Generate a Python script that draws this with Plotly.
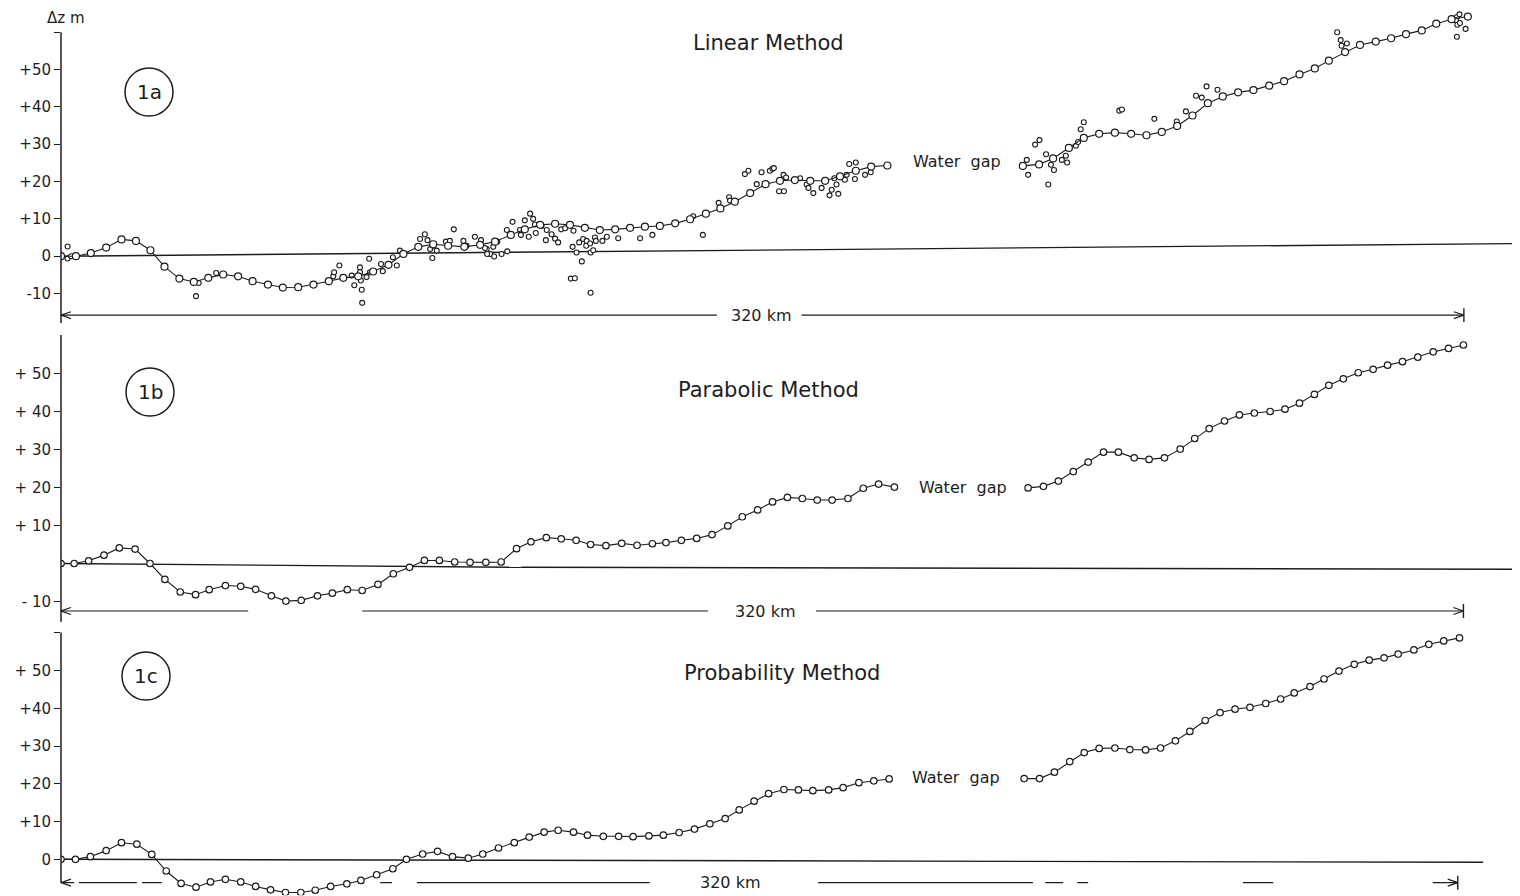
import plotly.graph_objects as go

# ---------------- data (distance in km, elevation difference in m) ----------------
# Panel 1a : Linear Method
lin_x_left = [0.0, 3.4, 6.8, 10.3, 13.8, 17.1, 20.4, 23.6, 27.0, 30.3,
              33.6, 37.0, 40.4, 43.7, 47.2, 50.6, 54.1, 57.6, 61.1, 64.4,
              67.8, 71.2, 74.7, 78.1, 81.5, 84.9, 88.3, 92.0, 95.6, 99.0,
              102.6, 105.8, 109.3, 112.7, 116.1, 119.5, 122.9, 126.4, 129.8, 133.2,
              136.6, 140.1, 143.5, 147.1, 150.4, 153.7, 157.2, 160.7, 164.0, 167.4,
              170.9, 174.3, 177.7, 181.3, 184.8, 188.5]
lin_y_left = [0.0, 0.0, 0.85, 2.3, 4.5, 4.1, 1.6, -2.8, -6.0, -6.9,
              -5.8, -4.9, -5.4, -6.7, -7.6, -8.4, -8.3, -7.6, -6.7, -5.8,
              -5.4, -4.1, -2.3, 0.6, 2.5, 3.2, 2.8, 2.5, 3.05, 3.9,
              5.7, 7.2, 8.4, 8.7, 8.4, 7.6, 7.0, 7.2, 7.6, 7.9,
              8.1, 8.8, 9.9, 11.4, 12.8, 14.6, 16.9, 19.3, 20.2, 20.4,
              20.2, 20.2, 21.4, 22.9, 24.0, 24.3]
lin_x_right = [219.4, 223.1, 226.3, 229.9, 233.3, 236.8, 240.4, 244.1, 247.6, 251.1,
               254.6, 258.1, 261.6, 265.0, 268.5, 272.0, 275.6, 279.0, 282.5, 286.0,
               289.2, 292.9, 296.3, 299.9, 303.4, 306.8, 310.4, 313.7, 317.2, 320.9]
lin_y_right = [24.2, 24.6, 26.2, 29.0, 31.7, 32.8, 33.1, 32.8, 32.4, 33.3,
               34.9, 37.7, 41.0, 42.8, 43.9, 44.5, 45.7, 46.9, 48.7, 50.3,
               52.4, 54.7, 56.6, 57.5, 58.4, 59.5, 60.5, 62.3, 63.5, 64.2]
# individual observations scattered about the linear-method profile
obs_x = [1.5, 1.5, 2.3, 30.8, 31.4, 35.4, 62.1, 62.3, 63.5, 66.3,
         66.9, 68.2, 68.2, 68.4, 68.6, 68.7, 69.7, 70.3, 70.5, 71.2,
         73.0, 73.4, 74.7, 75.7, 76.6, 77.3, 78.1, 81.9, 83.0, 83.6,
         84.2, 84.7, 84.9, 85.7, 87.8, 88.7, 89.6, 91.8, 92.5, 94.4,
         95.8, 97.1, 97.9, 98.6, 98.8, 99.5, 96.7, 97.2, 100.5, 101.7,
         103.0, 101.8, 104.7, 104.9, 105.8, 106.7, 107.0, 107.7, 108.1, 108.3,
         109.6, 110.6, 110.8, 111.9, 112.7, 113.4, 114.1, 115.0, 116.9, 116.7,
         117.6, 118.2, 118.8, 119.1, 119.8, 119.9, 120.7, 120.8, 121.4, 121.8,
         122.0, 116.3, 117.2, 120.8, 123.5, 124.5, 127.1, 132.1, 134.9, 146.4,
         144.2, 150.0, 152.4, 152.6, 156.0, 156.8, 158.7, 159.8, 161.7, 162.3,
         162.6, 163.8, 164.9, 164.8, 165.4, 168.6, 170.1, 170.5, 171.6, 173.5,
         175.3, 175.8, 176.9, 177.3, 176.4, 178.8, 179.2, 179.8, 181.3, 181.1,
         183.4, 184.7,
         220.3, 220.6, 222.2, 223.2, 224.7, 225.2, 225.8, 226.5, 228.3, 229.2,
         229.5, 231.5, 232.0, 232.6, 233.3, 241.4, 242.0, 249.4, 254.5, 256.6,
         258.9, 260.2, 261.3, 263.8, 291.1, 291.9, 292.1, 293.3, 318.4, 318.2,
         318.5, 319.1, 320.4, 318.4, 319.0]
obs_y = [2.6, -0.6, 0.0, -10.7, -7.2, -4.5, -5.4, -4.3, -2.5, -5.2,
         -7.8, -3.0, -4.3, -6.5, -9.0, -12.5, -5.6, -0.7, -4.3, -4.0,
         -2.1, -4.0, -2.3, -0.3, -2.5, 1.5, 0.6, 4.6, 5.9, 4.3,
         1.9, -0.5, 2.8, 1.5, 3.9, 4.1, 7.2, 4.1, 2.8, 5.2,
         4.3, 1.9, 0.6, 2.5, -0.1, 3.9, 2.2, 0.6, 0.6, 7.0,
         9.2, 1.3, 7.0, 5.7, 9.6, 5.2, 11.4, 10.0, 8.5, 6.2,
         8.1, 4.3, 7.0, 5.9, 4.7, 3.7, 7.2, 7.5, 6.8, 2.5,
         1.0, 3.7, -1.4, 4.6, 2.8, 4.1, 3.4, 1.0, 1.6, 5.0,
         4.1, -6.0, -5.9, -9.8, 4.1, 5.2, 4.8, 4.8, 5.7, 5.7,
         10.7, 14.3, 15.8, 14.9, 22.0, 22.9, 19.3, 22.5, 22.9, 23.4,
         23.6, 17.4, 17.4, 21.8, 21.1, 20.9, 19.2, 18.3, 16.9, 18.3,
         16.3, 17.8, 19.2, 16.7, 20.9, 20.5, 21.8, 24.7, 25.1, 20.7,
         21.8, 22.5,
         25.8, 21.8, 29.9, 31.1, 27.3, 19.2, 24.5, 23.1, 25.8, 26.9,
         25.1, 29.6, 30.6, 34.0, 35.9, 39.0, 39.3, 36.8, 36.1, 38.8,
         43.0, 42.5, 45.5, 44.6, 60.0, 57.9, 56.4, 57.0, 64.1, 63.2,
         62.0, 62.5, 60.9, 58.8, 64.8]

# Panel 1b : Parabolic Method
par_x_left = [0.0, 3.0, 6.3, 9.8, 13.3, 16.9, 20.3, 23.7, 27.2, 30.7,
              33.8, 37.5, 41.0, 44.4, 48.0, 51.3, 54.8, 58.5, 61.9, 65.3,
              68.7, 72.3, 75.8, 79.5, 82.9, 86.3, 89.8, 93.3, 96.9, 100.4,
              103.9, 107.2, 110.7, 114.1, 117.5, 120.8, 124.3, 127.9, 131.4, 134.9,
              138.0, 141.5, 145.0, 148.5, 152.1, 155.4, 158.9, 162.3, 165.7, 169.1,
              172.5, 175.9, 179.5, 183.0, 186.5, 190.1]
par_y_left = [0.0, 0.0, 0.7, 2.2, 4.1, 3.8, 0.0, -4.2, -7.5, -8.2,
              -6.9, -5.8, -6.0, -6.8, -8.5, -9.9, -9.7, -8.5, -7.8, -6.9,
              -7.1, -5.5, -2.7, -1.0, 0.8, 0.8, 0.4, 0.3, 0.3, 0.4,
              3.9, 5.7, 6.8, 6.5, 6.1, 5.0, 4.7, 5.3, 4.8, 5.2,
              5.5, 6.1, 6.6, 7.6, 9.9, 12.3, 14.1, 16.2, 17.4, 17.1,
              16.7, 16.7, 17.1, 19.8, 20.9, 20.1]
par_x_right = [220.6, 224.1, 227.5, 230.9, 234.3, 237.8, 241.2, 244.8, 248.2, 251.7,
               255.3, 258.6, 261.9, 265.4, 268.8, 272.2, 275.8, 279.2, 282.5, 285.9,
               289.2, 292.5, 295.9, 299.3, 302.6, 306.0, 309.5, 313.0, 316.5, 319.9]
par_y_right = [19.9, 20.3, 21.7, 24.2, 26.7, 29.3, 29.3, 27.8, 27.4, 27.8,
               30.1, 32.9, 35.5, 37.5, 39.1, 39.6, 40.0, 40.6, 42.2, 44.5,
               46.9, 48.6, 50.2, 51.1, 52.2, 53.1, 54.3, 55.7, 56.6, 57.5]

# Panel 1c : Probability Method
pro_x_left = [0.0, 3.3, 6.7, 10.3, 13.8, 17.3, 20.7, 24.0, 27.4, 30.8,
              34.1, 37.5, 41.0, 44.4, 47.8, 51.2, 54.7, 58.0, 61.5, 65.2,
              68.4, 72.0, 75.7, 78.8, 82.5, 85.9, 89.3, 92.9, 96.2, 99.8,
              103.4, 106.8, 110.2, 113.4, 116.9, 120.1, 123.7, 127.2, 130.5, 134.1,
              137.4, 141.0, 144.5, 148.0, 151.5, 154.7, 158.1, 161.4, 164.9, 168.2,
              171.5, 175.1, 178.4, 182.0, 185.4, 188.9]
pro_y_left = [0.0, 0.0, 0.7, 2.3, 4.4, 4.0, 1.3, -3.1, -6.4, -7.4,
              -6.0, -5.3, -6.0, -7.2, -8.1, -8.8, -8.8, -8.2, -7.2, -6.5,
              -5.6, -4.1, -2.5, 0.0, 1.4, 2.1, 0.7, 0.3, 1.4, 3.0,
              4.4, 5.9, 7.2, 7.7, 7.2, 6.4, 6.1, 6.1, 6.0, 6.2,
              6.4, 7.1, 8.0, 9.4, 10.8, 13.1, 15.4, 17.4, 18.5, 18.4,
              18.2, 18.4, 19.0, 20.3, 20.8, 21.3]
pro_x_right = [219.7, 223.2, 226.6, 230.1, 233.4, 236.8, 240.4, 243.8, 247.4, 250.8,
               254.2, 257.5, 261.0, 264.4, 267.8, 271.2, 274.8, 278.2, 281.3, 284.9,
               288.1, 291.5, 295.0, 298.4, 301.8, 305.0, 308.6, 312.0, 315.4, 319.0]
pro_y_right = [21.4, 21.4, 23.1, 25.9, 28.3, 29.4, 29.5, 29.1, 29.0, 29.5,
               31.4, 33.9, 36.8, 38.9, 39.8, 40.3, 41.3, 42.5, 44.1, 45.8,
               47.8, 49.9, 51.7, 52.8, 53.4, 54.4, 55.5, 57.0, 57.9, 58.7]

tick_vals_a = [60, 50, 40, 30, 20, 10, 0, -10]
tick_text_a = ["", "+50", "+40", "+30", "+20", "+10", "0", "-10"]
tick_vals_b = [50, 40, 30, 20, 10, -10]
tick_text_b = ["+ 50", "+ 40", "+ 30", "+ 20", "+ 10", "- 10"]
tick_vals_c = [60, 50, 40, 30, 20, 10, 0]
tick_text_c = ["", "+ 50", "+40", "+30", "+20", "+10", "0"]

# ---------------- layout geometry ----------------
# The page has an 8 px body margin: the figure is placed at (8, 8) in the window.
OFF = 8
W, H = 1520 - OFF, 896 - OFF
INK = "#1d1d1d"
FONT = "DejaVu Sans"
X0PX = 61.0 - OFF    # figure pixel of x = 0 km
KMPX = 4.384         # pixels per km
XMAX = (W - X0PX) / KMPX


def fx(px):
    return (px - OFF) / W


def fy(py):
    return 1 - (py - OFF) / H


panels = [
    dict(zero=255.5, s=3.77, rng=(-18.5, 66.5), axis=(-17.9, 60.0),
         tv=tick_vals_a, tt=tick_text_a,
         base=[(0, 0), (XMAX, 3.4)],
         arr_y=-15.8, segs=[(0, 149.6), (168.9, 320.0)], tip_r=320.0,
         km=(159.7, "320 km"), title=("Linear Method", 769, 43),
         circ=(149, 92, "1a"), wg=(204.4, 25.3)),
    dict(zero=563.5, s=3.8, rng=(-15.5, 60.5), axis=(-15.3, 60.1),
         tv=tick_vals_b, tt=tick_text_b,
         base=[(0, 0), (105, -1.0), (XMAX, -1.5)],
         arr_y=-12.5, segs=[(0, 42.7), (68.7, 147.6), (172.2, 319.9)], tip_r=319.9,
         km=(160.6, "320 km"), title=("Parabolic Method", 769, 390),
         circ=(150, 392, "1b"), wg=(205.7, 20.0)),
    dict(zero=859.3, s=3.772, rng=(-9.5, 60.5), axis=(-6.3, 60.1),
         tv=tick_vals_c, tt=tick_text_c,
         base=[(0, 0), (324.4, -0.8)],
         arr_y=-6.2, segs=[(0, 3.0), (4.1, 17.3), (18.5, 23.0), (72.8, 75.5), (81.2, 134.3),
                           (172.7, 221.7), (224.5, 228.6), (231.8, 234.3), (269.6, 276.5),
                           (312.9, 318.6)], tip_r=318.6,
         km=(152.6, "320 km"), title=("Probability Method", 782, 673),
         circ=(146, 676, "1c"), wg=(204.2, 21.8)),
]

series = [
    [(lin_x_left, lin_y_left), (lin_x_right, lin_y_right)],
    [(par_x_left, par_y_left), (par_x_right, par_y_right)],
    [(pro_x_left, pro_y_left), (pro_x_right, pro_y_right)],
]

fig = go.Figure()
shapes, annotations = [], []

for i, p in enumerate(panels):
    n = i + 1
    xa = "x" if n == 1 else f"x{n}"
    ya = "y" if n == 1 else f"y{n}"
    s = p["s"]
    top_px = p["zero"] - p["rng"][1] * s
    bot_px = p["zero"] - p["rng"][0] * s
    ydom = [max(0.0, fy(bot_px)), min(1.0, fy(top_px))]
    fig.update_layout(**{
        ("xaxis" if n == 1 else f"xaxis{n}"): dict(
            domain=[X0PX / W, 1.0], range=[0, XMAX], visible=False, anchor=ya,
            fixedrange=True),
        ("yaxis" if n == 1 else f"yaxis{n}"): dict(
            domain=ydom, range=list(p["rng"]), anchor=xa, showgrid=False,
            zeroline=False, showline=False, ticks="outside", ticklen=6,
            tickwidth=1.4, tickcolor=INK, tickvals=p["tv"], ticktext=p["tt"],
            tickfont=dict(family=FONT, size=15, color=INK), fixedrange=True),
    })

    if n == 1:
        fig.add_trace(go.Scatter(
            x=obs_x, y=obs_y, mode="markers", xaxis=xa, yaxis=ya,
            marker=dict(symbol="circle", size=5, color="white",
                        line=dict(color=INK, width=1.1)),
            showlegend=False, hoverinfo="skip"))
    for sx, sy in series[i]:
        fig.add_trace(go.Scatter(
            x=sx, y=sy, mode="lines+markers", xaxis=xa, yaxis=ya,
            line=dict(color=INK, width=1.1),
            marker=dict(symbol="circle", size=7 if n == 1 else 6.5, color="white",
                        line=dict(color=INK, width=1.2)),
            showlegend=False, hoverinfo="skip"))

    # vertical axis line
    shapes.append(dict(type="line", xref="paper", yref=ya, x0=X0PX / W, x1=X0PX / W,
                       y0=p["axis"][0], y1=p["axis"][1], line=dict(color=INK, width=1.5)))
    # reference (zero) line
    b = p["base"]
    for (xa0, ya0), (xa1, ya1) in zip(b[:-1], b[1:]):
        shapes.append(dict(type="line", xref=xa, yref=ya, x0=xa0, y0=ya0, x1=xa1, y1=ya1,
                           layer="below", line=dict(color=INK, width=1.4)))
    # 320 km dimension line
    ay = p["arr_y"]
    for a0, a1 in p["segs"]:
        shapes.append(dict(type="line", xref=xa, yref=ya, x0=a0, y0=ay, x1=a1, y1=ay,
                           layer="below", line=dict(color=INK, width=1.2)))
    dxh, dyh = 10 / KMPX, 3.5 / s
    for tip, sgn in ((0.0, 1), (p["tip_r"], -1)):
        for sy_ in (1, -1):
            shapes.append(dict(type="line", xref=xa, yref=ya, x0=tip, y0=ay,
                               x1=tip + sgn * dxh, y1=ay + sy_ * dyh,
                               line=dict(color=INK, width=1.2)))
    shapes.append(dict(type="line", xref=xa, yref=ya, x0=p["tip_r"], x1=p["tip_r"],
                       y0=ay - 7 / s, y1=ay + 7 / s, line=dict(color=INK, width=1.4)))
    annotations.append(dict(x=p["km"][0], y=ay, xref=xa, yref=ya, text=p["km"][1],
                            showarrow=False, xanchor="center", yanchor="middle",
                            font=dict(family=FONT, size=16, color=INK)))
    # Water gap label
    annotations.append(dict(x=p["wg"][0], y=p["wg"][1], xref=xa, yref=ya, text="Water  gap",
                            showarrow=False, xanchor="center", yanchor="middle",
                            font=dict(family=FONT, size=16, color=INK)))
    # method title
    t, tx, ty = p["title"]
    annotations.append(dict(x=fx(tx), y=fy(ty), xref="paper", yref="paper", text=t,
                            showarrow=False, xanchor="center", yanchor="middle",
                            font=dict(family=FONT, size=21, color=INK)))
    # circled panel label
    cx, cy, lab = p["circ"]
    r = 24
    shapes.append(dict(type="circle", xref="paper", yref="paper",
                       x0=fx(cx - r), x1=fx(cx + r), y0=fy(cy + r), y1=fy(cy - r),
                       line=dict(color=INK, width=1.5)))
    annotations.append(dict(x=fx(cx), y=fy(cy), xref="paper", yref="paper", text=lab,
                            showarrow=False, xanchor="center", yanchor="middle",
                            font=dict(family=FONT, size=20, color=INK)))

annotations.append(dict(x=fx(66), y=fy(18), xref="paper", yref="paper", text="Δz m",
                        showarrow=False, xanchor="center", yanchor="middle",
                        font=dict(family=FONT, size=15, color=INK)))

fig.update_layout(width=W, height=H, margin=dict(l=0, r=0, t=0, b=0),
                  paper_bgcolor="white", plot_bgcolor="rgba(0,0,0,0)",
                  shapes=shapes, annotations=annotations, showlegend=False)

fig.write_html("out.html")
